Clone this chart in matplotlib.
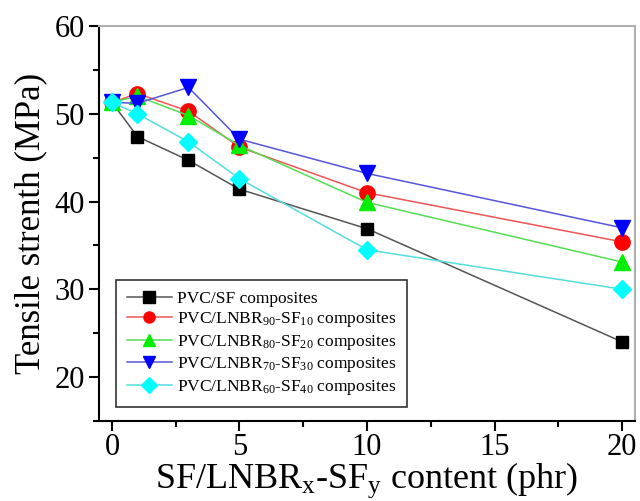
import matplotlib
matplotlib.use("Agg")
from matplotlib import pyplot as plt
from matplotlib.ticker import MultipleLocator

plt.rcParams['font.family'] = ['Liberation Serif', 'DejaVu Serif']
plt.rcParams['mathtext.fontset'] = 'custom'
plt.rcParams['mathtext.rm'] = 'Liberation Serif'
plt.rcParams['mathtext.it'] = 'Liberation Serif:italic'

# data
content = [0, 1, 3, 5, 10, 20]
pvc_sf = [51.3, 47.4, 44.7, 41.4, 36.9, 24.0]
lnbr90 = [51.3, 52.3, 50.3, 46.2, 41.0, 35.4]
lnbr80 = [51.3, 52.0, 49.8, 46.4, 39.9, 33.1]
lnbr70 = [51.3, 51.2, 53.0, 47.1, 43.2, 37.0]
lnbr60 = [51.3, 50.0, 46.8, 42.6, 34.5, 30.0]

labels = ['PVC/SF composites',
          r'PVC/LNBR$_{90}$-SF$_{10}$ composites',
          r'PVC/LNBR$_{80}$-SF$_{20}$ composites',
          r'PVC/LNBR$_{70}$-SF$_{30}$ composites',
          r'PVC/LNBR$_{60}$-SF$_{40}$ composites']

series = [pvc_sf, lnbr90, lnbr80, lnbr70, lnbr60]
markers = ['s', 'o', '^', 'v', 'D']
msizes = [9, 11, 11, 11, 9]
colors = ['black', 'red', '#00ee00', 'blue', 'cyan']
linecolors = ['#555555', '#ee5555', '#55dd55', '#5555dd', '#55dddd']

fig = plt.figure(figsize=(6.4, 5.01), dpi=100)
ax = fig.add_axes([0.155, 0.160, 0.837, 0.788])

for ys, m, ms, c, lc, lab in zip(series, markers, msizes, colors, linecolors, labels):
    ax.plot(content, ys, color=lc, lw=1.1, marker=m, markersize=ms,
            markerfacecolor=c, markeredgecolor=c, label=lab)

ax.set_xlim(-0.5, 20.5)
ax.set_ylim(15, 60)
ax.xaxis.set_major_locator(MultipleLocator(5))
ax.xaxis.set_minor_locator(MultipleLocator(2.5))
ax.yaxis.set_major_locator(MultipleLocator(10))
ax.yaxis.set_minor_locator(MultipleLocator(5))
ax.tick_params(which='major', direction='out', length=7, width=1.5, labelsize=22)
ax.tick_params(which='minor', direction='out', length=4, width=1.5)
ax.tick_params(axis='x', which='major', pad=2)
ax.tick_params(top=False, right=False, which='both')

for s in ['left', 'bottom']:
    ax.spines[s].set_linewidth(1.5)
for s in ['top', 'right']:
    ax.spines[s].set_color('#b0b0b0')
    ax.spines[s].set_linewidth(1.5)

ax.set_ylabel('Tensile strenth (MPa)', fontsize=25, labelpad=5)
ax.set_xlabel(r'SF/LNBR$_{\mathrm{x}}$-SF$_{\mathrm{y}}$ content (phr)', fontsize=26, labelpad=-1)

leg = ax.legend(loc='lower left', bbox_to_anchor=(0.032, 0.035), borderaxespad=0,
                fontsize=12.5, fancybox=False, edgecolor='#333333', framealpha=1,
                handlelength=2.6, handletextpad=0.3, labelspacing=0.2, borderpad=0.6)
leg.get_frame().set_linewidth(1.2)
for h in leg.legend_handles:
    h.set_markersize(8)

fig.savefig('out.png', dpi=100)
